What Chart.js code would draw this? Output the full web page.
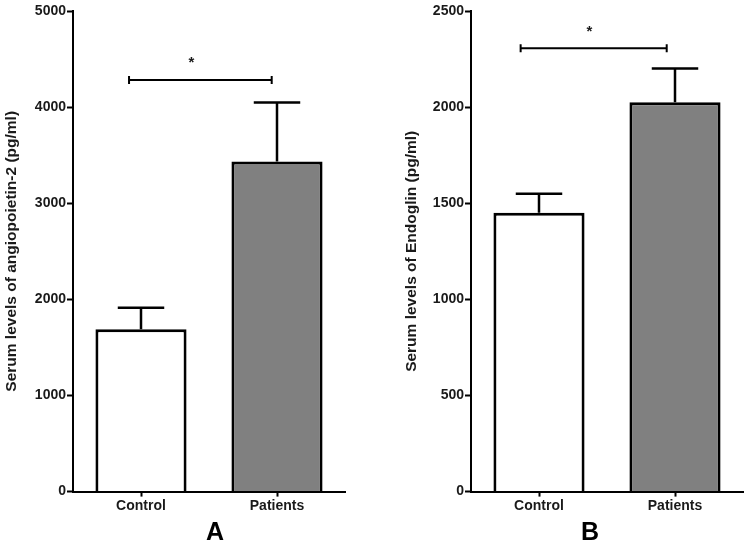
<!DOCTYPE html>
<html>
<head>
<meta charset="utf-8">
<script src="https://cdn.jsdelivr.net/npm/chart.js@4"></script>
<style>
  html, body { margin: 0; padding: 0; background: #fff; }
  .panel { position: absolute; top: 0; width: 375px; height: 545px; }
</style>
</head>
<body>
<div class="panel" style="left:0"><canvas id="chartA"></canvas></div>
<div class="panel" style="left:375px"><canvas id="chartB"></canvas></div>
<script>
// values
var groups = ['Control', 'Patients'];

var angMeans = [1690, 3435];
var angSem = [222, 612];
var angSig = 4283;      // level of the significance bracket
var angStar = 4490;

var endMeans = [1450, 2025];
var endSem = [100, 176];
var endSig = 2306;
var endStar = 2405;

var fontFam = '"Liberation Sans", Arial, sans-serif';
var ink = '#1a1a1a';

function makePanel(id, p) {
    // draws error bars, the bracket with its star and the panel letter
    var extras = {
        id: 'extras_' + id,
        afterDatasetsDraw: function (chart) {
            var ctx = chart.ctx;
            var x = chart.scales.x, y = chart.scales.y;
            var meta = chart.getDatasetMeta(0);
            ctx.save();
            ctx.strokeStyle = '#000';
            ctx.lineWidth = 2.5;
            ctx.lineCap = 'butt';
            meta.data.forEach(function (bar, i) {
                var top = y.getPixelForValue(p.means[i] + p.sem[i]);
                var half = bar.width * 0.255;
                ctx.beginPath();
                ctx.moveTo(bar.x, bar.y);
                ctx.lineTo(bar.x, top);
                ctx.moveTo(bar.x - half, top);
                ctx.lineTo(bar.x + half, top);
                ctx.stroke();
            });

            // bracket
            var by = y.getPixelForValue(p.sig);
            var x1 = x.getPixelForValue(p.bracketFrom);
            var x2 = x.getPixelForValue(p.bracketTo);
            ctx.lineWidth = 2;
            ctx.beginPath();
            ctx.moveTo(x1, by); ctx.lineTo(x2, by);
            ctx.moveTo(x1, by - 4); ctx.lineTo(x1, by + 4);
            ctx.moveTo(x2, by - 4); ctx.lineTo(x2, by + 4);
            ctx.stroke();

            ctx.fillStyle = ink;
            ctx.textAlign = 'center';
            ctx.textBaseline = 'middle';
            ctx.font = 'bold 15px ' + fontFam;
            ctx.fillText('*', x.getPixelForValue(p.starAt), y.getPixelForValue(p.star) + 3);

            ctx.font = 'bold 25px ' + fontFam;
            ctx.fillStyle = '#000';
            ctx.fillText(p.letter, x.getPixelForValue(p.letterAt), 533);
            ctx.restore();
        }
    };

    return new Chart(document.getElementById(id).getContext('2d'), {
        type: 'bar',
        data: {
            labels: groups,
            datasets: [{
                data: p.means,
                backgroundColor: ['#ffffff', '#808080'],
                borderColor: '#000',
                borderWidth: 3,
                borderSkipped: 'bottom',
                barPercentage: 0.67,
                categoryPercentage: 1
            }]
        },
        options: {
            responsive: true,
            maintainAspectRatio: false,
            animation: false,
            layout: { padding: { top: 11, right: p.padRight, left: 0, bottom: 0 } },
            plugins: { legend: { display: false }, tooltip: { enabled: false } },
            scales: {
                x: {
                    grid: { offset: false, drawOnChartArea: false, drawTicks: true, tickLength: 5, tickColor: '#000', tickWidth: 2 },
                    border: { color: '#000', width: 2 },
                    ticks: { color: ink, padding: 1, font: { family: fontFam, size: 14, weight: 'bold' } },
                    afterFit: function (s) { s.height = 53.4; }
                },
                y: {
                    min: 0,
                    max: p.max,
                    grid: { drawOnChartArea: false, drawTicks: true, tickLength: 6, tickColor: '#000', tickWidth: 2 },
                    border: { color: '#000', width: 2 },
                    ticks: {
                        stepSize: p.step,
                        color: ink,
                        padding: 1,
                        font: { family: fontFam, size: 14, weight: 'bold' },
                        callback: function (v) { return String(v); }
                    },
                    title: {
                        display: true,
                        text: p.title,
                        color: ink,
                        padding: { top: p.titlePad, bottom: 0 },
                        font: { family: fontFam, size: 15.5, weight: 'bold' }
                    },
                    afterFit: function (s) { s.width = p.axisLeft; }
                }
            }
        },
        plugins: [extras]
    });
}

makePanel('chartA', {
    means: angMeans, sem: angSem, sig: angSig, star: angStar,
    max: 5000, step: 1000,
    title: 'Serum levels of angiopoietin-2 (pg/ml)',
    axisLeft: 73, padRight: 30, titlePad: 2,
    bracketFrom: -0.088, bracketTo: 0.961, starAt: 0.37,
    letter: 'A', letterAt: 0.544
});

makePanel('chartB', {
    means: endMeans, sem: endSem, sig: endSig, star: endStar,
    max: 2500, step: 500,
    title: 'Serum levels of Endoglin (pg/ml)',
    axisLeft: 96, padRight: 7, titlePad: 27,
    bracketFrom: -0.135, bracketTo: 0.939, starAt: 0.37,
    letter: 'B', letterAt: 0.375
});
</script>
</body>
</html>
